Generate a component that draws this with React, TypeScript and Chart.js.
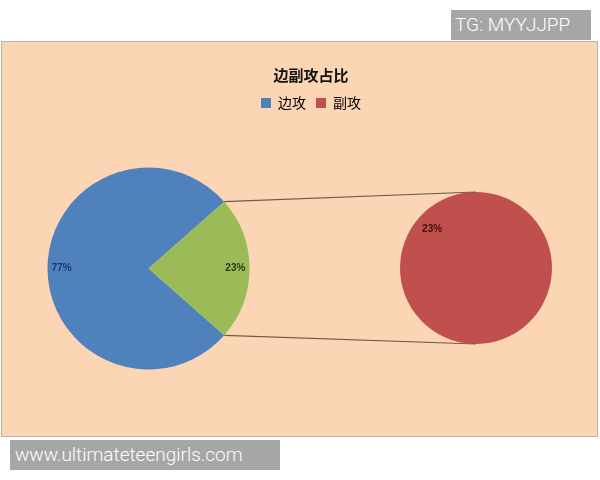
import React, { useEffect, useRef } from 'react';
import { Chart, registerables } from 'chart.js';

Chart.register(...registerables);

// ---- data ----
const TITLE = '边副攻占比';
const CATEGORIES = ['边攻', '副攻'];
const SHARES = [77, 23]; // percent of all attacks
const PRIMARY_LABELS = ['边攻', '其他'];
const PRIMARY_VALUES = [77, 23];
const SECONDARY_LABELS = ['副攻'];
const SECONDARY_VALUES = [23];
const WATERMARK_TOP = 'TG: MYYJJPP';
const WATERMARK_BOTTOM = 'www.ultimateteengirls.com';

// ---- styles ----
const BLUE = '#4F81BD';
const GREEN = '#9BBB59';
const RED = '#C0504D';
const PANEL_BG = '#FCD5B5';
const CANVAS_W = 595;
const CANVAS_H = 394;
const CJK = '"Noto Sans CJK SC", sans-serif';

const sliceLabelPlugin = {
  id: 'sliceLabels',
  afterDatasetsDraw(chart: any, _args: any, opts: any) {
    const meta = chart.getDatasetMeta(0);
    const data = chart.data.datasets[0].data;
    const ctx = chart.ctx;
    ctx.save();
    ctx.font = 'bold 10px "Liberation Sans", Arial, sans-serif';
    ctx.textAlign = 'center';
    ctx.textBaseline = 'middle';
    meta.data.forEach((arc: any, i: number) => {
      const { x, y, startAngle, endAngle, outerRadius } = arc.getProps(
        ['x', 'y', 'startAngle', 'endAngle', 'outerRadius'],
        true
      );
      const mid = (startAngle + endAngle) / 2;
      const r = outerRadius * opts.fraction;
      ctx.fillStyle = opts.colors[i];
      ctx.fillText(data[i] + '%', x + Math.cos(mid) * r, y + Math.sin(mid) * r);
    });
    ctx.restore();
  },
};

const rotation = 90 + (SHARES[1] * 3.6) / 2;

export default function App() {
  const leftRef = useRef<HTMLCanvasElement>(null);
  const rightRef = useRef<HTMLCanvasElement>(null);
  const headRef = useRef<HTMLCanvasElement>(null);

  useEffect(() => {
    const left = new Chart(leftRef.current as HTMLCanvasElement, {
      type: 'pie',
      data: {
        labels: PRIMARY_LABELS,
        datasets: [
          {
            data: PRIMARY_VALUES,
            backgroundColor: [BLUE, GREEN],
            borderWidth: 0,
          },
        ],
      },
      options: {
        responsive: false,
        animation: false,
        events: [],
        rotation,
        radius: 101,
        layout: { padding: { left: 0, right: 302, top: 59, bottom: 0 } },
        plugins: {
          legend: { display: false },
          title: { display: false },
          tooltip: { enabled: false },
          sliceLabels: { fraction: 0.86, colors: ['#1C3A6E', '#2B3A12'] },
        } as any,
      },
      plugins: [sliceLabelPlugin],
    });

    const connectorPlugin = {
      id: 'connectors',
      afterDatasetsDraw(chart: any) {
        const src: any = left.getDatasetMeta(0).data[1];
        const dst: any = chart.getDatasetMeta(0).data[0];
        if (!src || !dst) return;
        const s = src.getProps(['x', 'y', 'startAngle', 'endAngle', 'outerRadius'], true);
        const d = dst.getProps(['x', 'y', 'outerRadius'], true);
        const ctx = chart.ctx;
        ctx.save();
        ctx.strokeStyle = '#6F5B47';
        ctx.lineWidth = 1.2;
        ctx.beginPath();
        ctx.moveTo(s.x + Math.cos(s.startAngle) * s.outerRadius, s.y + Math.sin(s.startAngle) * s.outerRadius);
        ctx.lineTo(d.x, d.y - d.outerRadius);
        ctx.moveTo(s.x + Math.cos(s.endAngle) * s.outerRadius, s.y + Math.sin(s.endAngle) * s.outerRadius);
        ctx.lineTo(d.x, d.y + d.outerRadius);
        ctx.stroke();
        ctx.restore();
      },
    };

    const right = new Chart(rightRef.current as HTMLCanvasElement, {
      type: 'pie',
      data: {
        labels: SECONDARY_LABELS,
        datasets: [
          {
            data: SECONDARY_VALUES,
            backgroundColor: [RED],
            borderWidth: 0,
          },
        ],
      },
      options: {
        responsive: false,
        animation: false,
        events: [],
        rotation,
        radius: 76,
        layout: { padding: { left: 353, right: 0, top: 58, bottom: 0 } },
        plugins: {
          legend: { display: false },
          title: { display: false },
          tooltip: { enabled: false },
          sliceLabels: { fraction: 0.77, colors: ['#3D1110'] },
        } as any,
      },
      plugins: [sliceLabelPlugin, connectorPlugin],
    });

    const head = new Chart(headRef.current as HTMLCanvasElement, {
      type: 'pie',
      data: { labels: CATEGORIES, datasets: [] },
      options: {
        responsive: false,
        animation: false,
        events: [],
        layout: { padding: { left: 23, right: 0, top: 24, bottom: 0 } },
        plugins: {
          title: {
            display: true,
            text: TITLE,
            color: '#111111',
            font: { family: CJK, size: 15, weight: 'bold' },
            padding: { top: 0, bottom: 2 },
          },
          legend: {
            display: true,
            position: 'top',
            labels: {
              boxWidth: 10,
              boxHeight: 10,
              padding: 10,
              color: '#222222',
              font: { family: CJK, size: 14 },
              generateLabels: () =>
                CATEGORIES.map((c, i) => ({
                  text: c,
                  fillStyle: [BLUE, RED][i],
                  strokeStyle: [BLUE, RED][i],
                  lineWidth: 0,
                  hidden: false,
                  index: i,
                })),
            },
          },
          tooltip: { enabled: false },
        },
      },
    });

    return () => {
      head.destroy();
      right.destroy();
      left.destroy();
    };
  }, []);

  const canvasStyle: React.CSSProperties = {
    position: 'absolute',
    left: 0,
    top: 0,
    width: CANVAS_W,
    height: CANVAS_H,
  };

  const wm: React.CSSProperties = {
    position: 'absolute',
    height: 30,
    lineHeight: '30px',
    background: '#A6A6A6',
    color: '#FFFFFF',
    fontFamily: 'Roboto, "Liberation Sans", sans-serif',
    fontSize: 19,
    fontWeight: 300,
    boxSizing: 'border-box',
    paddingLeft: 4,
    whiteSpace: 'nowrap',
  };

  return (
    <div style={{ position: 'absolute', left: 0, top: 0, width: 600, height: 480, background: '#FFFFFF', overflow: 'hidden' }}>
      <div style={{ ...wm, left: 451, top: 10, width: 140 }}>{WATERMARK_TOP}</div>
      <div
        style={{
          position: 'absolute',
          left: 1,
          top: 41,
          width: 597,
          height: 396,
          boxSizing: 'border-box',
          border: '1px solid #BDB2A8',
          background: PANEL_BG,
        }}
      >
        <canvas ref={leftRef} width={CANVAS_W} height={CANVAS_H} style={canvasStyle} />
        <canvas ref={rightRef} width={CANVAS_W} height={CANVAS_H} style={canvasStyle} />
        <canvas ref={headRef} width={CANVAS_W} height={CANVAS_H} style={canvasStyle} />
      </div>
      <div style={{ ...wm, left: 10, top: 440, width: 270, paddingLeft: 5 }}>{WATERMARK_BOTTOM}</div>
    </div>
  );
}
